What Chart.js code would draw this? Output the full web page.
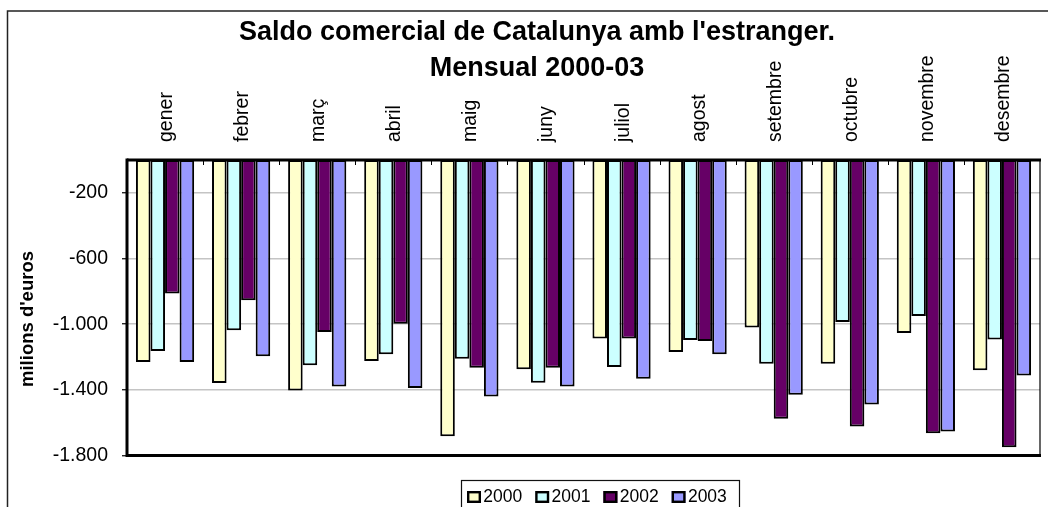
<!DOCTYPE html>
<html><head><meta charset="utf-8">
<script src="https://cdn.jsdelivr.net/npm/chart.js@4.4.0/dist/chart.umd.min.js"></script>
<style>html,body{margin:0;padding:0;background:#fff}</style>
</head><body>
<canvas id="c" width="1048" height="507" style="display:block;width:1048px;height:507px"></canvas>
<script>
const categories = ['gener','febrer','març','abril','maig','juny','juliol','agost','setembre','octubre','novembre','desembre'];
const seriesNames = ['2000','2001','2002','2003'];
const values2000 = [-1231,-1359,-1404,-1225,-1682,-1275,-1088,-1170,-1021,-1241,-1054,-1281];
const values2001 = [-1163,-1037,-1251,-1184,-1210,-1357,-1261,-1097,-1241,-987,-950,-1094];
const values2002 = [-813,-854,-1048,-997,-1265,-1265,-1088,-1103,-1576,-1623,-1664,-1749];
const values2003 = [-1231,-1196,-1379,-1389,-1440,-1379,-1332,-1184,-1430,-1489,-1654,-1312];
const yTicks = [-1800,-1400,-1000,-600,-200];
const titleLines = ["Saldo comercial de Catalunya amb l'estranger.", "Mensual 2000-03"];
const yTitle = "milions d'euros";
const colors = ['#FFFFCC','#CCFFFF','#660066','#9999FF'];

const FONT = "'Liberation Sans', Arial, sans-serif";
const seriesValues = [values2000, values2001, values2002, values2003];

function fmt(v){
  const s = Math.abs(v).toString().replace(/\B(?=(\d{3})+(?!\d))/g, '.');
  return (v < 0 ? '-' : '') + s;
}

const PLOT_TOP = 160, PLOT_LEFT = 127, PAD_LEFT = 34, PAD_RIGHT = 8, PAD_BOTTOM = 51.5;

const decor = {
  id: 'decor',
  beforeDraw(chart){
    const ctx = chart.ctx;
    ctx.save();
    ctx.fillStyle = '#fff';
    ctx.fillRect(0,0,chart.width,chart.height);
    ctx.strokeStyle = '#222';
    ctx.lineWidth = 1.5;
    ctx.strokeRect(7.5, 11, 1200, 1000);
    // chart title
    ctx.fillStyle = '#000';
    ctx.font = 'bold 27px ' + FONT;
    ctx.textAlign = 'center';
    ctx.textBaseline = 'middle';
    ctx.fillText(titleLines[0], 537, 32.5);
    ctx.fillText(titleLines[1], 537, 68.8);
    ctx.restore();
  },
  afterDatasetsDraw(chart){
    const ctx = chart.ctx, a = chart.chartArea, xs = chart.scales.x;
    ctx.save();
    ctx.strokeStyle = '#000';
    ctx.lineWidth = 1;
    for (let i = 1; i < categories.length; i++){
      const x = Math.round((xs.getPixelForValue(i-1) + xs.getPixelForValue(i))/2) + 0.5;
      ctx.beginPath(); ctx.moveTo(x, a.top); ctx.lineTo(x, a.top + 5); ctx.stroke();
    }
    ctx.lineWidth = 1.2;
    ctx.beginPath(); ctx.moveTo(a.right, a.top); ctx.lineTo(a.right, a.bottom); ctx.stroke();
    ctx.lineWidth = 3;
    ctx.beginPath(); ctx.moveTo(a.left, a.top); ctx.lineTo(a.right + 1, a.top); ctx.stroke();
    ctx.beginPath(); ctx.moveTo(a.left, a.bottom); ctx.lineTo(a.right + 1, a.bottom); ctx.stroke();
    ctx.beginPath(); ctx.moveTo(a.left, a.top - 1.5); ctx.lineTo(a.left, a.bottom + 1.5); ctx.stroke();
    ctx.fillStyle = '#000';
    ctx.font = 'bold 18.5px ' + FONT;
    ctx.textAlign = 'center';
    ctx.textBaseline = 'middle';
    ctx.translate(27.5, 319);
    ctx.rotate(-Math.PI/2);
    ctx.fillText(yTitle, 0, 0);
    ctx.restore();
    // legend
    ctx.save();
    ctx.strokeStyle = '#111';
    ctx.lineWidth = 1.2;
    ctx.strokeRect(461.5, 480.5, 278, 60);
    ctx.font = '17.5px ' + FONT;
    ctx.textAlign = 'left';
    ctx.textBaseline = 'middle';
    chart.data.datasets.forEach((ds, i) => {
      const x0 = 467 + i * 68.2;
      ctx.fillStyle = ds.backgroundColor;
      ctx.fillRect(x0, 491, 14, 12);
      ctx.strokeStyle = '#000';
      ctx.lineWidth = 2.4;
      ctx.strokeRect(x0 + 1.2, 492.2, 11.6, 9.6);
      ctx.fillStyle = '#000';
      ctx.fillText(ds.label, x0 + 16.3, 497.5);
    });
    ctx.restore();
  }
};

new Chart(document.getElementById('c'), {
  type: 'bar',
  data: {
    labels: categories,
    datasets: seriesNames.map((name, i) => ({
      label: name,
      data: seriesValues[i],
      backgroundColor: colors[i],
      borderColor: '#000',
      borderWidth: 2,
      borderSkipped: false,
      categoryPercentage: 0.765,
      barPercentage: 1.0
    }))
  },
  options: {
    responsive: false,
    animation: false,
    devicePixelRatio: 1,
    layout: { padding: { top: 0, left: PAD_LEFT, right: PAD_RIGHT, bottom: PAD_BOTTOM } },
    plugins: {
      legend: { display: false },
      tooltip: { enabled: false },
      title: { display: false }
    },
    scales: {
      x: {
        position: 'top',
        offset: true,
        grid: { display: false, drawTicks: false },
        border: { display: false },
        ticks: {
          autoSkip: false, minRotation: 90, maxRotation: 90, padding: 18, labelOffset: 25,
          color: '#000', font: { family: FONT, size: 19.5 }
        },
        afterFit(s){ s.height = PLOT_TOP; }
      },
      y: {
        min: -1800, max: 0,
        afterBuildTicks(s){ s.ticks = yTicks.map(v => ({ value: v })); },
        grid: {
          color: c => (c.tick && c.tick.value === -1800) ? 'rgba(0,0,0,0)' : '#C4C4C4',
          lineWidth: 1.5,
          drawTicks: true, tickLength: 5, tickColor: '#000', tickWidth: 1.2
        },
        border: { display: false },
        ticks: {
          padding: 14, color: '#000', font: { family: FONT, size: 19.5 },
          callback: v => fmt(v)
        },
        afterFit(s){ s.width = PLOT_LEFT - PAD_LEFT; }
      }
    }
  },
  plugins: [decor]
});
</script>
</body></html>
